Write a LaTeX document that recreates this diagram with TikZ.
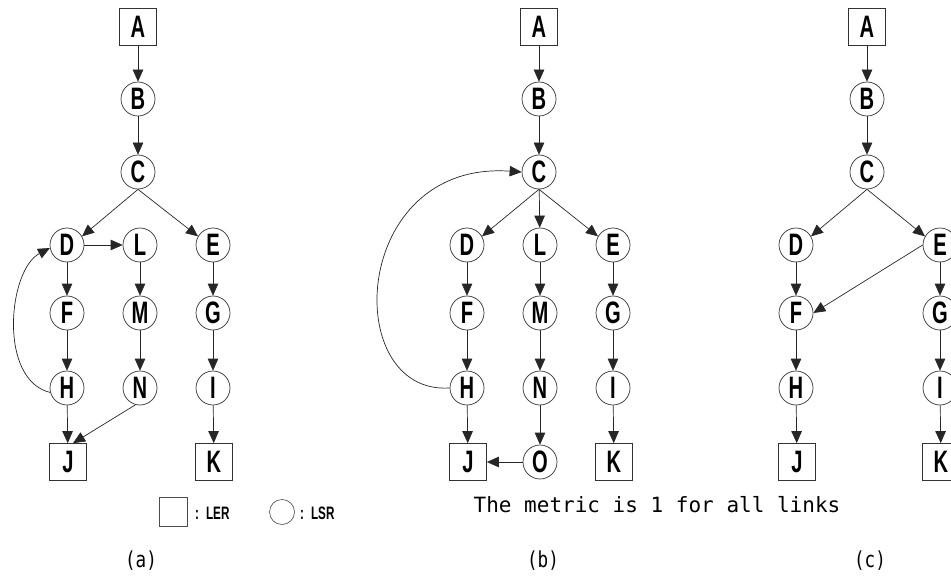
\documentclass[tikz,border=0pt]{standalone}
\usepackage{fontspec}
\setmainfont{Liberation Sans}
\newfontfamily\nodefont[FakeStretch=0.65]{Liberation Sans}
\newfontfamily\labfont[FakeStretch=0.8]{DejaVu Sans Mono}
\newfontfamily\capfont{DejaVu Sans Mono}
\usetikzlibrary{arrows.meta}
\tikzset{
  lsr/.style={circle,draw=black!80,line width=0.7pt,minimum size=34pt,inner sep=0pt,
    font=\nodefont\bfseries\fontsize{31}{31}\selectfont},
  ler/.style={rectangle,draw=black!80,line width=0.7pt,minimum width=37pt,minimum height=37pt,inner sep=0pt,
    font=\nodefont\bfseries\fontsize{31}{31}\selectfont},
  arr/.style={draw=black!85,line width=0.7pt,-{Triangle[length=12pt,width=10.5pt]}},
  leg/.style={font=\nodefont\bfseries\fontsize{18}{18}\selectfont,anchor=west,inner sep=0pt},
  sublabel/.style={font=\labfont\fontsize{22}{22}\selectfont,inner sep=0pt},
}
\begin{document}
\begin{tikzpicture}[x=1pt,y=-1pt]
\useasboundingbox (0,0) rectangle (951,583);
% ---------- panel (a)
\node[ler] (aA) at (138,27) {A};
\node[lsr] (aB) at (138,99) {B};
\node[lsr] (aC) at (138,172) {C};
\node[lsr] (aD) at (67,245) {D};
\node[lsr] (aL) at (140,245) {L};
\node[lsr] (aE) at (213,245) {E};
\node[lsr] (aF) at (67,313) {F};
\node[lsr] (aM) at (140,313) {M};
\node[lsr] (aG) at (213,313) {G};
\node[lsr] (aH) at (67,388) {H};
\node[lsr] (aN) at (140,388) {N};
\node[lsr] (aI) at (213,388) {I};
\node[ler] (aJ) at (68,462) {J};
\node[ler] (aK) at (214,462) {K};
\draw[arr] (aA) -- (aB);
\draw[arr] (aB) -- (aC);
\draw[arr] (aC.south) -- (aD.30);
\draw[arr] (aC.south) -- (aE.150);
\draw[arr] (aD) -- (aL);
\draw[arr] (aD) -- (aF);
\draw[arr] (aF) -- (aH);
\draw[arr] (aH) -- (aJ);
\draw[arr] (aL) -- (aM);
\draw[arr] (aM) -- (aN);
\draw[arr] (aN.255) -- (aJ.75);
\draw[arr] (aE) -- (aG);
\draw[arr] (aG) -- (aI);
\draw[arr] (aI) -- (aK);
\draw[arr] (aH.195) .. controls (-2,380) and (8,270) .. (aD.190);
% ---------- panel (b)
\node[ler] (bA) at (539,27) {A};
\node[lsr] (bB) at (539,99) {B};
\node[lsr] (bC) at (539,172) {C};
\node[lsr] (bD) at (467,245) {D};
\node[lsr] (bL) at (540,245) {L};
\node[lsr] (bE) at (613,245) {E};
\node[lsr] (bF) at (467,313) {F};
\node[lsr] (bM) at (540,313) {M};
\node[lsr] (bG) at (613,313) {G};
\node[lsr] (bH) at (467,388) {H};
\node[lsr] (bN) at (540,388) {N};
\node[lsr] (bI) at (613,388) {I};
\node[ler] (bJ) at (468,462) {J};
\node[lsr] (bO) at (540,462) {O};
\node[ler] (bK) at (614,462) {K};
\draw[arr] (bA) -- (bB);
\draw[arr] (bB) -- (bC);
\draw[arr] (bC.south) -- (bD.30);
\draw[arr] (bC) -- (bL);
\draw[arr] (bC.south) -- (bE.150);
\draw[arr] (bD) -- (bF);
\draw[arr] (bF) -- (bH);
\draw[arr] (bH) -- (bJ);
\draw[arr] (bL) -- (bM);
\draw[arr] (bM) -- (bN);
\draw[arr] (bN) -- (bO);
\draw[arr] (bO) -- (bJ);
\draw[arr] (bE) -- (bG);
\draw[arr] (bG) -- (bI);
\draw[arr] (bI) -- (bK);
\draw[arr] (bH.west) .. controls (340,395) and (350,160) .. (bC.west);
% ---------- panel (c)
\node[ler] (cA) at (867,27) {A};
\node[lsr] (cB) at (867,99) {B};
\node[lsr] (cC) at (867,172) {C};
\node[lsr] (cD) at (796,245) {D};
\node[lsr] (cE) at (940,245) {E};
\node[lsr] (cF) at (796,313) {F};
\node[lsr] (cG) at (940,313) {G};
\node[lsr] (cH) at (796,388) {H};
\node[lsr] (cI) at (940,388) {I};
\node[ler] (cJ) at (797,462) {J};
\node[ler] (cK) at (941,462) {K};
\draw[arr] (cA) -- (cB);
\draw[arr] (cB) -- (cC);
\draw[arr] (cC.south) -- (cD.30);
\draw[arr] (cC.south) -- (cE.150);
\draw[arr] (cD) -- (cF);
\draw[arr] (cE.west) -- (cF.east);
\draw[arr] (cF) -- (cH);
\draw[arr] (cH) -- (cJ);
\draw[arr] (cE) -- (cG);
\draw[arr] (cG) -- (cI);
\draw[arr] (cI) -- (cK);
% ---------- legend and captions
\node[rectangle,draw=black!70,line width=0.6pt,minimum width=28pt,minimum height=29pt,inner sep=0pt] (lgsq) at (173,512) {};
\node[leg] (lgler) at (195,513) {:\hspace{7pt}LER};
\node[circle,draw=black!70,line width=0.6pt,minimum size=25pt,inner sep=0pt] (lgci) at (282,512) {};
\node[leg] (lglsr) at (300,513) {:\hspace{7pt}LSR};
\node[font=\capfont\fontsize{21}{21}\selectfont,inner sep=0pt] (metric) at (657,505) {The metric is 1 for all links};
\node[sublabel] (la) at (141,561) {(a)};
\node[sublabel] (lb) at (543,561) {(b)};
\node[sublabel] (lc) at (870,561) {(c)};
\end{tikzpicture}
\end{document}
